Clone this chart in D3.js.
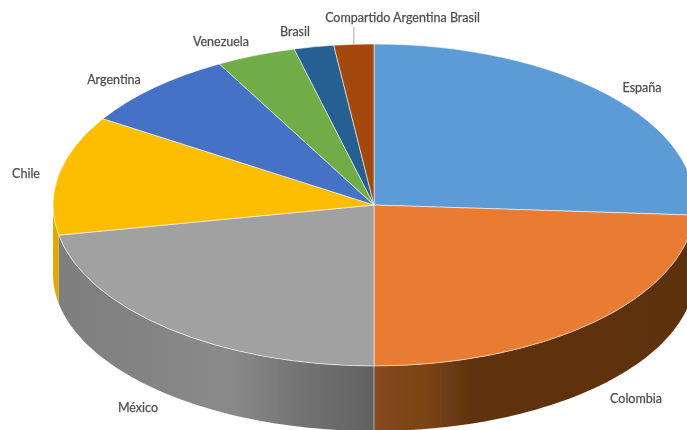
<!DOCTYPE html>
<html>
<head>
<meta charset="utf-8">
<script src="https://cdn.jsdelivr.net/npm/d3@7/dist/d3.min.js"></script>
<style>
html,body{margin:0;padding:0;background:#fff;overflow:hidden}
svg{display:block}
text{font-family:Lato,"Open Sans",sans-serif;font-size:12.5px;fill:#4f4f4f;stroke:#4f4f4f;stroke-width:0.25px}
</style>
</head>
<body>
<script>
const categories = ["España","Colombia","México","Chile","Argentina","Venezuela","Brasil","Compartido Argentina Brasil"];
const values = [26,24,22,12,8,4,2,2];
const colors = ["#5b9bd5","#e97c30","#a1a1a1","#fdbd00","#4472c4","#70ad47","#255e91","#a44a0a"];

const W = 687, H = 430;
const cx = 374, cy = 205, rx = 321, ry = 161, bottomCy = 274, bottomRy = 157;
const labelCenters = [[642,89],[636,400],[138,409],[26,175],[114,81],[221,43],[295,33],[402.5,19]];

const svg = d3.select("body").append("svg").attr("width",W).attr("height",H);
const defs = svg.append("defs");
defs.append("filter").attr("id","soft")
  .attr("filterUnits","userSpaceOnUse").attr("x",0).attr("y",0).attr("width",W).attr("height",H)
  .append("feGaussianBlur").attr("stdDeviation",0.5);

function grad(id, stops){
  const g = defs.append("linearGradient").attr("id",id).attr("gradientUnits","userSpaceOnUse")
    .attr("x1",0).attr("x2",W).attr("y1",0).attr("y2",0);
  stops.forEach(s=>g.append("stop").attr("offset",s[0]/W).attr("stop-color",s[1]));
}
grad("wall1",[[374,"#85491b"],[430,"#7a4317"],[470,"#60330f"],[687,"#5c3010"]]);
grad("wall2",[[55,"#7e7e7e"],[120,"#828282"],[230,"#8a8a8a"],[300,"#737373"],[374,"#626262"]]);
grad("wall3",[[50,"#e6ac00"],[60,"#dca400"]]);
const wallFills = {1:"url(#wall1)",2:"url(#wall2)",3:"url(#wall3)"};

const pie = d3.pie().sort(null).value(d=>d)(values);
const chart = svg.append("g").attr("filter","url(#soft)");

const px = a => cx + rx*Math.sin(a);
const py = a => cy - ry*Math.cos(a);
const pyBottom = a => bottomCy - bottomRy*Math.cos(a);

// side walls: only the part of the rim facing the viewer
const front0 = Math.PI/2, front1 = 3*Math.PI/2;
const rimLine = d3.line();
pie.forEach((s,i)=>{
  const a0 = Math.max(s.startAngle,front0), a1 = Math.min(s.endAngle,front1);
  if(a1<=a0) return;
  const n = 60, ts = d3.range(n+1).map(k=>a0+(a1-a0)*k/n);
  const pts = ts.map(t=>[px(t),py(t)]).concat(ts.slice().reverse().map(t=>[px(t),pyBottom(t)]));
  chart.append("path").attr("d",rimLine(pts)+"Z")
    .attr("fill",wallFills[i]||colors[i]);
});
// seam between Colombia and México walls
const seam = pie[1].endAngle;
chart.append("line").attr("x1",px(seam)).attr("x2",px(seam)).attr("y1",py(seam)).attr("y2",pyBottom(seam))
  .attr("stroke","#c9c9c9").attr("stroke-width",0.8);

// top face
const sliceArc = d3.arc().innerRadius(0).outerRadius(rx);
const topFace = chart.append("g").attr("transform",`translate(${cx},${cy}) scale(1,${ry/rx})`);
topFace.selectAll("path").data(pie).join("path")
  .attr("d",sliceArc)
  .attr("fill",(d,i)=>colors[i])
  .attr("stroke","#ffffff").attr("stroke-opacity",0.55).attr("stroke-width",1)
  .attr("vector-effect","non-scaling-stroke");

// leader line for the smallest slice
const lastMid = (pie[7].startAngle+pie[7].endAngle)/2;
chart.append("line").attr("x1",px(lastMid)).attr("x2",px(lastMid)).attr("y1",27).attr("y2",py(lastMid))
  .attr("stroke","#a6a6a6").attr("stroke-width",1);

chart.selectAll("text.lab").data(categories).join("text").attr("class","lab")
  .attr("x",(d,i)=>labelCenters[i][0]).attr("y",(d,i)=>labelCenters[i][1])
  .attr("text-anchor","middle").attr("dominant-baseline","middle")
  .text(d=>d);
</script>
</body>
</html>
